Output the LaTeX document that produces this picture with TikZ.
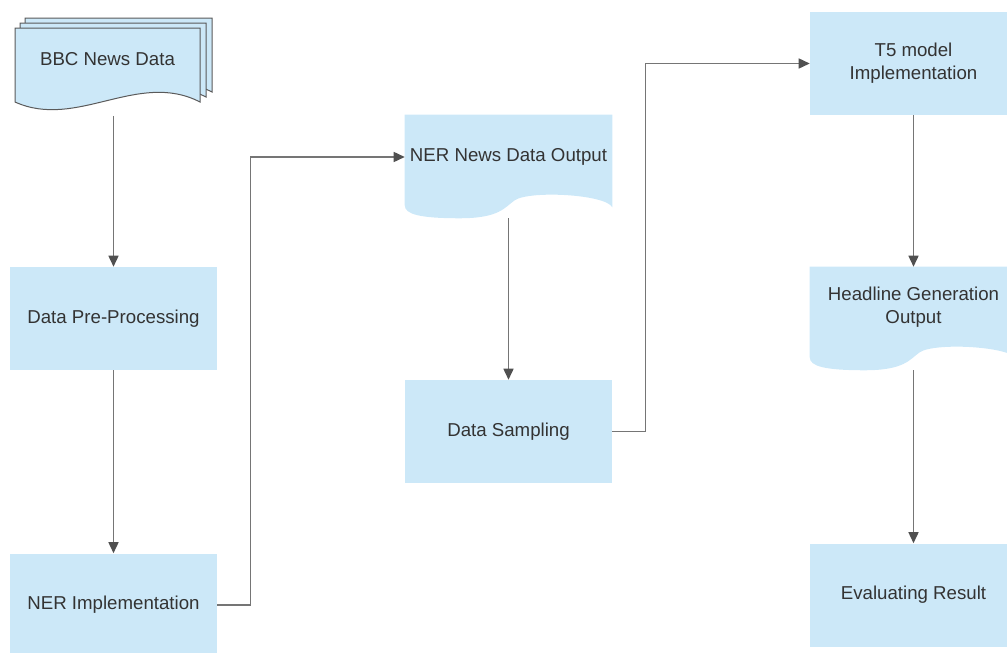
\documentclass[tikz,border=0pt]{standalone}
\usepackage{fontspec}
\setmainfont{Liberation Sans}
\usepackage{tikz}
\usetikzlibrary{arrows.meta,calc}

\definecolor{boxblue}{HTML}{CCE8F8}
\definecolor{txtgray}{HTML}{333333}
\definecolor{linegray}{HTML}{757575}
\definecolor{tipgray}{HTML}{505050}
\definecolor{edgegray}{HTML}{5A5A5A}

\newcommand{\boxfont}{\fontsize{14}{17}\selectfont}

\tikzset{
  procbox/.style={rectangle, fill=boxblue, minimum width=155.25pt, minimum height=77.25pt,
    inner sep=0pt, text=txtgray, font=\boxfont, align=center},
  docbox/.style={rectangle, minimum width=155.25pt, minimum height=77.25pt, inner sep=0pt},
  doclbl/.style={inner sep=0pt, text=txtgray, font=\boxfont, align=center},
  pagefill/.style={fill=boxblue, draw=edgegray, line width=0.75pt},
  flow/.style={draw=linegray, line width=1.1pt,
    -{Triangle[length=8.25pt,width=7.5pt,color=tipgray]}}
}

% document shape (step wave) drawn on a docbox node
\newcommand{\docshape}[1]{%
  \fill[boxblue] (#1.north west) -- (#1.north east) -- ($(#1.south east)+(0,-11)$)
    .. controls ($(#1.south west)+(201,-24)$) and ($(#1.south west)+(125,-28)$) .. ($(#1.south west)+(110,-18)$)
    .. controls ($(#1.south west)+(100,-11)$) and ($(#1.south west)+(95,0)$) .. ($(#1.south west)+(55,0)$)
    .. controls ($(#1.south west)+(15,0)$) and ($(#1.south west)+(0,-4)$) .. ($(#1.south west)+(0,-13)$) -- cycle;}

% one page of the stacked document
\newcommand{\stackpage}[4]{%
  \draw[pagefill] (#1,#4) -- (#1,#2) -- (#3,#2) -- (#3,#4)
    .. controls ({#3-62},{#4-32}) and ({#1+62},{#4+28}) .. (#1,#4) -- cycle;}

\begin{document}
\begin{tikzpicture}[x=0.75pt,y=-0.75pt]
    \useasboundingbox (0,0) rectangle (1007,653);

    % stacked input data
    \stackpage{25}{18}{212}{92}
    \stackpage{20}{23}{206}{97}
    \stackpage{15}{28}{200}{102}
    \node[docbox] (bbc) at (113.5,64) {};
    \node[doclbl] (bbclbl) at (107.5,59) {BBC News Data};

    % left column
    \node[procbox] (prep) at (113.5,318.5) {Data Pre-Processing};
    \node[procbox] (nerimpl) at (113.5,605) {NER Implementation};

    % middle column
    \node[docbox] (nerout) at (508.5,166.5) {};
    \docshape{nerout}
    \node[doclbl] (neroutlbl) at (508.5,157) {NER News Data Output};
    \node[procbox] (sampling) at (508.5,431.5) {Data Sampling};

    % right column
    \node[procbox] (t5) at (913.5,63.5) {T5 model\\Implementation};
    \node[docbox] (headline) at (913.5,318.5) {};
    \docshape{headline}
    \node[doclbl] (headlinelbl) at (913.5,307) {Headline Generation\\Output};
    \node[procbox] (evalres) at (913.5,595) {Evaluating Result};

    % connectors
    \draw[flow] (bbc.south) -- (prep.north);
    \draw[flow] (prep.south) -- (nerimpl.north);
    \draw[flow] (nerimpl.east) -- ++(33,0) |- (neroutlbl -| nerout.west);
    \draw[flow] (nerout.south) -- (sampling.north);
    \draw[flow] (sampling.east) -- ++(33,0) |- (t5.west);
    \draw[flow] (t5.south) -- (headline.north);
    \draw[flow] (headline.south) -- (evalres.north);
\end{tikzpicture}
\end{document}
